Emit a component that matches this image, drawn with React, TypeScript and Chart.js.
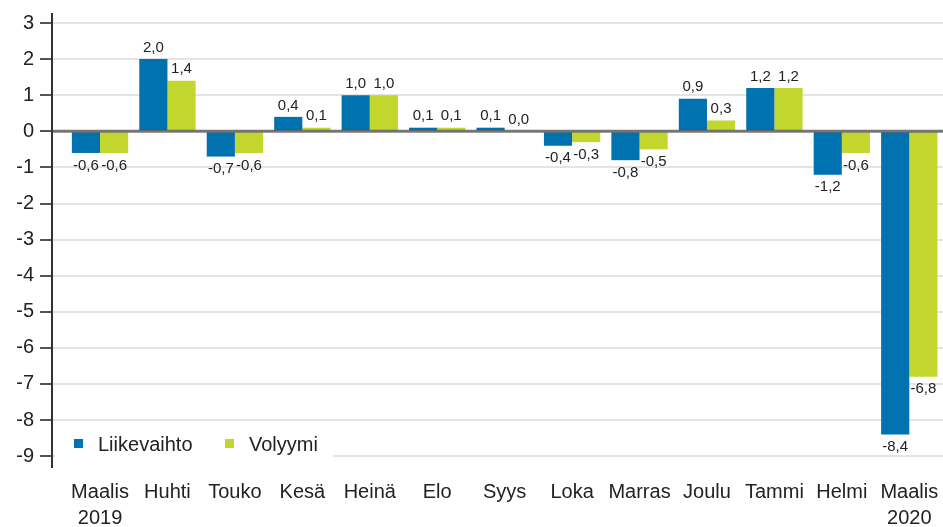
import React, { useEffect, useRef } from "react";
import { Chart, registerables } from "chart.js";

Chart.register(...registerables);

const categories: (string | string[])[] = [
  ["Maalis", "2019"], "Huhti", "Touko", "Kesä", "Heinä", "Elo", "Syys",
  "Loka", "Marras", "Joulu", "Tammi", "Helmi", ["Maalis", "2020"],
];
const liikevaihto = [-0.6, 2.0, -0.7, 0.4, 1.0, 0.1, 0.1, -0.4, -0.8, 0.9, 1.2, -1.2, -8.4];
const volyymi = [-0.6, 1.4, -0.6, 0.1, 1.0, 0.1, 0.0, -0.3, -0.5, 0.3, 1.2, -0.6, -6.8];
const seriesNames = ["Liikevaihto", "Volyymi"];
const seriesColors = ["#0072B0", "#C3D62E"];
const yMin = -9.3;
const yMax = 3.25;

const FONT = '"Liberation Sans", Arial, sans-serif';

const fmt = (v: number) => v.toFixed(1).replace(".", ",");

const overlayPlugin = {
  id: "overlay",
  afterDatasetsDraw(chart: any) {
    const { ctx, chartArea } = chart;
    const yScale = chart.scales.y;
    const y0 = yScale.getPixelForValue(0);
    ctx.save();
    ctx.strokeStyle = "rgba(70,70,70,0.7)";
    ctx.lineWidth = 3;
    ctx.beginPath();
    ctx.moveTo(chartArea.left, y0);
    ctx.lineTo(chartArea.right, y0);
    ctx.stroke();

    ctx.font = `15px ${FONT}`;
    ctx.fillStyle = "#222";
    ctx.textAlign = "center";
    chart.data.datasets.forEach((ds: any, di: number) => {
      const meta = chart.getDatasetMeta(di);
      meta.data.forEach((bar: any, i: number) => {
        const v = ds.data[i] as number;
        if (v >= 0) {
          ctx.textBaseline = "bottom";
          ctx.fillText(fmt(v), bar.x, bar.y - 4);
        } else {
          ctx.textBaseline = "top";
          ctx.fillText(fmt(v), bar.x, bar.y + 5);
        }
      });
    });
    ctx.restore();
  },
  afterDraw(chart: any) {
    const { ctx, chartArea } = chart;
    const cy = chartArea.bottom - 23;
    ctx.save();
    ctx.fillStyle = "#fff";
    ctx.fillRect(chartArea.left + 3, cy - 14, 278, 30);
    ctx.font = `20px ${FONT}`;
    ctx.textBaseline = "middle";
    ctx.textAlign = "left";
    const xs = [chartArea.left + 22, chartArea.left + 173];
    seriesNames.forEach((name, i) => {
      ctx.fillStyle = seriesColors[i];
      ctx.fillRect(xs[i], cy - 5, 9, 9);
      ctx.fillStyle = "#222";
      ctx.fillText(name, xs[i] + 24, cy + 1);
    });
    ctx.restore();
  },
};

export default function App() {
  const ref = useRef<HTMLCanvasElement>(null);
  useEffect(() => {
    if (!ref.current) return;
    const chart = new Chart(ref.current, {
      type: "bar",
      data: {
        labels: categories as any,
        datasets: [
          { label: seriesNames[0], data: liikevaihto, backgroundColor: seriesColors[0] },
          { label: seriesNames[1], data: volyymi, backgroundColor: seriesColors[1] },
        ],
      },
      options: {
        animation: false,
        responsive: true,
        maintainAspectRatio: false,
        layout: { padding: { top: 14, right: 0, bottom: 0, left: 0 } },
        datasets: { bar: { categoryPercentage: 0.835, barPercentage: 1.0 } },
        plugins: { legend: { display: false }, tooltip: { enabled: false } },
        scales: {
          x: {
            grid: { display: false, drawTicks: false },
            border: { display: false },
            ticks: {
              font: { family: FONT, size: 20, lineHeight: 1.3 },
              color: "#222",
              padding: 12,
              maxRotation: 0,
              autoSkip: false,
            },
            afterBuildTicks: (s: any) => {
              s._startValue = -0.712;
              s._valueRange = 13.212;
            },
            afterFit: (s: any) => {
              s.height = 60;
              s.paddingLeft = 0;
              s.paddingRight = 0;
            },
          },
          y: {
            min: yMin,
            max: yMax,
            grid: {
              color: "#e4e4e4",
              lineWidth: 2,
              tickLength: 12,
              tickColor: "#555",
              tickWidth: 2,
            } as any,
            border: { display: true, color: "#333", width: 2 },
            ticks: {
              stepSize: 1,
              includeBounds: false,
              font: { family: FONT, size: 20 },
              color: "#222",
              padding: 6,
            },
            afterFit: (s: any) => {
              s.width = 52;
              s.paddingTop = 0;
              s.paddingBottom = 0;
            },
          },
        },
      },
      plugins: [overlayPlugin],
    });
    return () => chart.destroy();
  }, []);
  return (
    <div style={{ position: "fixed", left: 0, top: 0, width: 943, height: 527, background: "#fff" }}>
      <canvas ref={ref} />
    </div>
  );
}
